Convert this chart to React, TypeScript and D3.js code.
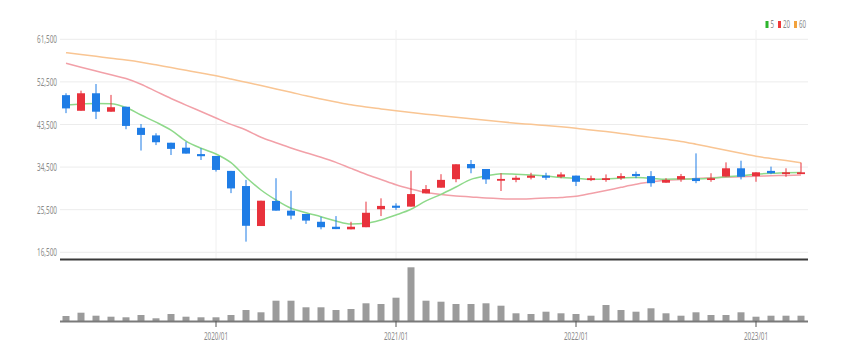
import React from 'react'
import * as d3 from 'd3'

// monthly candles, 2019/03 .. 2023/04
const months = [
	'2019/03', '2019/04', '2019/05', '2019/06', '2019/07', '2019/08', '2019/09', '2019/10', '2019/11', '2019/12',
	'2020/01', '2020/02', '2020/03', '2020/04', '2020/05', '2020/06', '2020/07', '2020/08', '2020/09', '2020/10', '2020/11', '2020/12',
	'2021/01', '2021/02', '2021/03', '2021/04', '2021/05', '2021/06', '2021/07', '2021/08', '2021/09', '2021/10', '2021/11', '2021/12',
	'2022/01', '2022/02', '2022/03', '2022/04', '2022/05', '2022/06', '2022/07', '2022/08', '2022/09', '2022/10', '2022/11', '2022/12',
	'2023/01', '2023/02', '2023/03', '2023/04',
]

const open = [
	49700, 46400, 50100, 46200, 47250, 42800, 41200, 39650, 38600, 37250,
	36850, 33700, 30500, 22050, 27350, 25300, 24600, 22950, 21900, 21350, 21800, 25600,
	26350, 26150, 28950, 30150, 31950, 35150, 34100, 31650, 31800, 32250, 32700, 32450,
	32700, 31750, 32000, 32150, 33050, 32600, 31200, 31900, 32150, 31800, 32500, 34250,
	32600, 33700, 33200, 33050,
]
const high = [
	50100, 50650, 52050, 49750, 47250, 43600, 41650, 39650, 39850, 38500,
	36850, 33700, 31800, 27400, 32150, 29500, 24600, 24000, 24150, 22950, 27200, 27900,
	26850, 33750, 30700, 33000, 35100, 36000, 34100, 33200, 32700, 33300, 33300, 33400,
	32700, 32700, 32950, 33200, 33550, 33650, 32150, 33050, 37400, 33200, 35500, 35850,
	33400, 34600, 34250, 35450,
]
const low = [
	45900, 46400, 44650, 46200, 42500, 38000, 39150, 37050, 37350, 36000,
	33550, 29000, 18750, 22050, 25300, 23450, 22500, 21350, 21400, 21350, 21800, 24150,
	25450, 26150, 28950, 30150, 31300, 33200, 30950, 29450, 31300, 31900, 31800, 32150,
	30500, 31550, 31400, 31800, 32150, 30350, 31200, 31400, 31100, 31400, 32500, 31900,
	31400, 33000, 32450, 33050,
]
const close = [
	46900, 50100, 46200, 47150, 43200, 41300, 39750, 38350, 37350, 36800,
	33900, 30000, 22100, 27400, 25300, 24250, 23200, 21800, 21400, 21900, 24850, 26300,
	25900, 28800, 29850, 31800, 35100, 34250, 31900, 32000, 32250, 32700, 32250, 32950,
	31400, 32150, 32150, 32600, 32600, 31100, 31800, 32600, 31550, 32150, 34250, 32450,
	33400, 33200, 33400, 33400,
]
const volume = [
	57, 90, 60, 50, 44, 67, 34, 77, 50, 44,
	44, 67, 117, 94, 210, 210, 144, 144, 117, 127, 184, 177,
	240, 544, 210, 200, 177, 177, 184, 160, 84, 77, 100, 84,
	77, 60, 167, 117, 100, 134, 84, 60, 94, 67, 67, 94,
	50, 60, 60, 60,
]

// moving averages as drawn on the chart
const ma5 = [
	47620, 47840, 47940, 47900, 47100, 45510, 44000, 42300, 40000, 38480,
	37270, 35430, 32350, 29660, 27550, 25800, 24870, 24020, 23110, 22480, 22630, 23330,
	24380, 25590, 27350, 28750, 30300, 31900, 32620, 33100, 32980, 32830, 32620, 32300,
	32140, 31950, 31990, 32200, 32300, 32140, 31950, 31990, 32000, 32140, 32470, 32690,
	32980, 33190, 33320, 33350,
]
const ma20 = [
	56440, 55610, 54810, 54010, 53200, 52000, 50500, 49000, 47600, 46250,
	44880, 43530, 42340, 40800, 39660, 38540, 37520, 36570, 35500, 34230, 33000, 31880,
	30760, 29880, 29140, 28710, 28400, 28190, 27970, 27830, 27760, 27830, 27970, 28080,
	28330, 28920, 29560, 30230, 30870, 31400, 31700, 31900, 32090, 32240, 32370, 32470,
	32580, 32660, 32750, 32830,
]
const ma60 = [
	58680, 58300, 57910, 57510, 57130, 56670, 56100, 55530, 54960, 54390,
	53790, 53120, 52420, 51720, 51010, 50310, 49560, 48900, 48260, 47650, 47180, 46780,
	46380, 46040, 45680, 45360, 45030, 44710, 44390, 44070, 43780, 43530, 43270, 43020,
	42720, 42340, 42000, 41600, 41200, 40780, 40360, 39930, 39340, 38710, 38070, 37420,
	36800, 36320, 35880, 35430,
]

const priceTicks = [16500, 25500, 34500, 43500, 52500, 61500]
const xTickLabels = ['2020/01', '2021/01', '2022/01', '2023/01']
const legendItems = [
	{ label: '5', color: '#2db52d' },
	{ label: '20', color: '#ee3a3a' },
	{ label: '60', color: '#f2a23c' },
]

const W = 845
const H = 361
const RED = '#e8323c'
const BLUE = '#1f7de6'

export default function App() {
	const x = d3.scaleBand().domain(months).range([58.5, 808.5]).padding(0)
	const y = d3.scaleLinear().domain([16500, 61500]).range([252.3, 39.3])
	const yv = d3.scaleLinear().domain([0, 600]).range([321.7, 261.7])
	const cx = (i: number) => (x(months[i]) as number) + x.bandwidth() / 2

	const line = (vals: number[]) =>
		d3
			.line<number>()
			.x((_, i) => cx(i))
			.y(d => y(d))
			.curve(d3.curveMonotoneX)(vals) as string

	const fmt = d3.format(',')

	return (
		<svg width={W} height={H} style={{ position: 'absolute', left: 0, top: 0, background: '#fff' }}>
			{/* horizontal grid */}
			{priceTicks.map(t => (
				<line key={t} x1={60} x2={808} y1={y(t)} y2={y(t)} stroke="#ececec" strokeWidth={1} />
			))}
			{/* vertical grid */}
			{xTickLabels.map(m => (
				<line key={m} x1={cx(months.indexOf(m))} x2={cx(months.indexOf(m))} y1={30} y2={259} stroke="#f0f0f0" />
			))}
			{/* y labels */}
			{priceTicks.map(t => (
				<text
					key={t}
					x={57}
					y={y(t) + 4}
					textAnchor="end"
					fontFamily="Noto Sans, sans-serif"
					fontSize={11}
					fill="#8a8a8a"
					textLength={20}
					lengthAdjust="spacingAndGlyphs"
				>
					{fmt(t)}
				</text>
			))}

			{/* moving averages */}
			<path d={line(ma60)} fill="none" stroke="#f9c593" strokeWidth={1.5} />
			<path d={line(ma20)} fill="none" stroke="#f2a0a8" strokeWidth={1.5} />
			<path d={line(ma5)} fill="none" stroke="#8ed98a" strokeWidth={1.5} />

			{/* candles */}
			{months.map((m, i) => {
				const up = close[i] >= open[i]
				const col = up ? RED : BLUE
				const top = y(Math.max(open[i], close[i]))
				const bot = y(Math.min(open[i], close[i]))
				const c = cx(i)
				return (
					<g key={m}>
						<line x1={c} x2={c} y1={y(high[i])} y2={y(low[i])} stroke={col} strokeWidth={1} />
						<rect x={c - 4} y={top} width={8} height={Math.max(1.8, bot - top)} fill={col} />
					</g>
				)
			})}

			{/* separator */}
			<line x1={60} x2={808} y1={259.5} y2={259.5} stroke="#3a3a3a" strokeWidth={2} />

			{/* volume */}
			{months.map((m, i) => (
				<rect
					key={m}
					x={cx(i) - 3.5}
					y={yv(volume[i])}
					width={7}
					height={yv(0) - yv(volume[i])}
					fill="#9b9b9b"
				/>
			))}
			<line x1={60} x2={808} y1={321.5} y2={321.5} stroke="#7a7a7a" strokeWidth={2} />
			{xTickLabels.map(m => {
				const c = cx(months.indexOf(m))
				return (
					<g key={m}>
						<line x1={c} x2={c} y1={321} y2={327} stroke="#555" strokeWidth={1} />
						<text
							x={c}
							y={340}
							textAnchor="middle"
							fontFamily="Noto Sans, sans-serif"
							fontSize={11.5}
							fill="#8a8a8a"
							textLength={24}
							lengthAdjust="spacingAndGlyphs"
						>
							{m}
						</text>
					</g>
				)
			})}

			{/* legend */}
			{(() => {
				let lx = 765.5
				return legendItems.map(it => {
					const g = (
						<g key={it.label}>
							<rect x={lx} y={21} width={3} height={7} fill={it.color} />
							<text
								x={lx + 5}
								y={28}
								fontFamily="Noto Sans, sans-serif"
								fontSize={10}
								fill="#8a8a8a"
								textLength={it.label.length * 3.5}
								lengthAdjust="spacingAndGlyphs"
							>
								{it.label}
							</text>
						</g>
					)
					lx += 5 + it.label.length * 3.5 + 4
					return g
				})
			})()}
		</svg>
	)
}
